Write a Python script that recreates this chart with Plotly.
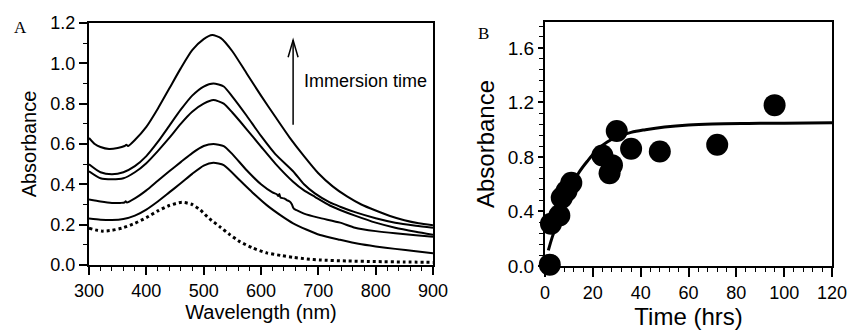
import plotly.graph_objects as go

# ---------------- Panel A : UV-vis spectra ----------------
wl_5 = [300, 310, 320, 335, 350, 362, 365, 368, 380, 400, 420, 440, 460, 480, 500, 515, 530, 550, 575, 600,
        625, 650, 675, 700, 725, 750, 775, 800, 825, 850, 875, 900]
abs_5 = [0.63, 0.60, 0.585, 0.575, 0.58, 0.59, 0.596, 0.59, 0.62, 0.685, 0.775, 0.875, 0.975, 1.065, 1.12, 1.14,
         1.125, 1.06, 0.95, 0.84, 0.735, 0.632, 0.54, 0.455, 0.39, 0.34, 0.30, 0.27, 0.243, 0.222, 0.207, 0.197]

wl_4 = [300, 320, 340, 360, 380, 400, 420, 440, 460, 480, 500, 517, 535, 550, 575, 600, 625, 656, 675, 694,
        720, 738, 764, 800, 834, 870, 900]
abs_4 = [0.50, 0.46, 0.45, 0.46, 0.49, 0.54, 0.61, 0.69, 0.77, 0.84, 0.885, 0.90, 0.885, 0.835, 0.74, 0.64,
         0.55, 0.465, 0.40, 0.355, 0.31, 0.289, 0.262, 0.232, 0.21, 0.195, 0.185]

wl_3 = [300, 320, 340, 360, 380, 400, 420, 440, 460, 480, 500, 517, 535, 550, 575, 600, 625, 656, 675, 694,
        720, 738, 764, 800, 834, 870, 900]
abs_3 = [0.465, 0.43, 0.425, 0.43, 0.46, 0.505, 0.565, 0.63, 0.70, 0.76, 0.80, 0.818, 0.80, 0.756, 0.673, 0.587,
         0.503, 0.413, 0.37, 0.338, 0.295, 0.273, 0.245, 0.21, 0.185, 0.165, 0.15]

wl_2 = [300, 320, 340, 355, 362, 364, 366, 380, 400, 420, 440, 460, 480, 500, 517, 535, 550, 575, 600, 620,
        628, 630, 632, 634, 640, 645, 650, 654, 656, 658, 662, 675, 700, 738, 764, 800, 834, 870, 900]
abs_2 = [0.325, 0.315, 0.308, 0.308, 0.31, 0.316, 0.31, 0.33, 0.37, 0.418, 0.465, 0.51, 0.555, 0.59, 0.60, 0.59,
         0.55, 0.47, 0.40, 0.36, 0.35, 0.342, 0.352, 0.335, 0.33, 0.322, 0.315, 0.30, 0.285, 0.278, 0.272, 0.255,
         0.235, 0.21, 0.185, 0.168, 0.157, 0.148, 0.14]

wl_1 = [300, 320, 340, 360, 380, 400, 420, 440, 460, 480, 500, 517, 535, 563, 585, 610, 635, 656, 680, 703,
        738, 770, 800, 834, 870, 900]
abs_1 = [0.231, 0.225, 0.223, 0.228, 0.245, 0.275, 0.315, 0.36, 0.405, 0.452, 0.493, 0.507, 0.495, 0.42, 0.36,
         0.297, 0.245, 0.207, 0.175, 0.149, 0.125, 0.105, 0.092, 0.08, 0.068, 0.058]

wl_0 = [300, 322, 340, 360, 380, 400, 420, 440, 462, 480, 494, 510, 528, 545, 563, 585, 610, 635, 656, 680,
        703, 750, 800, 850, 900]
abs_0 = [0.182, 0.168, 0.172, 0.185, 0.207, 0.235, 0.268, 0.295, 0.311, 0.30, 0.273, 0.23, 0.19, 0.152, 0.116,
         0.085, 0.06, 0.047, 0.038, 0.03, 0.025, 0.02, 0.017, 0.015, 0.013]

# ---------------- Panel B : absorbance vs time ----------------
time_hrs = [2, 2.5, 6, 7, 9, 11, 24, 27, 28, 30, 36, 48, 72, 96]
absorb_t = [0.01, 0.31, 0.37, 0.50, 0.55, 0.61, 0.81, 0.68, 0.74, 0.99, 0.86, 0.84, 0.89, 1.18]

fit_t = [1.4, 3, 5, 8, 11, 14, 18, 22, 26, 30, 36, 42, 50, 60, 70, 85, 100, 120]
fit_a = [0.115, 0.21, 0.31, 0.44, 0.57, 0.68, 0.775, 0.855, 0.91, 0.945, 0.98, 1.0, 1.02, 1.035, 1.042, 1.046,
         1.048, 1.05]

FONT = "Liberation Sans, Arial, sans-serif"
SERIF = "Liberation Serif, Times New Roman, serif"

W, H = 851, 332


def px(x):
    return x / W


def py(y):
    return 1 - y / H


fig = go.Figure()

for wl, ab in [(wl_5, abs_5), (wl_4, abs_4), (wl_3, abs_3), (wl_2, abs_2), (wl_1, abs_1)]:
    fig.add_trace(go.Scatter(x=wl, y=ab, mode="lines",
                             line=dict(color="black", width=2, shape="spline", smoothing=0.6),
                             xaxis="x", yaxis="y", showlegend=False, hoverinfo="skip"))
fig.add_trace(go.Scatter(x=wl_0, y=abs_0, mode="lines",
                         line=dict(color="black", width=3, dash="dot", shape="spline", smoothing=0.6),
                         xaxis="x", yaxis="y", showlegend=False, hoverinfo="skip"))

fig.add_trace(go.Scatter(x=fit_t, y=fit_a, mode="lines", line=dict(color="black", width=3, shape="spline"),
                         xaxis="x2", yaxis="y2", showlegend=False, hoverinfo="skip"))
fig.add_trace(go.Scatter(x=time_hrs, y=absorb_t, mode="markers", marker=dict(color="black", size=22),
                         xaxis="x2", yaxis="y2", showlegend=False, cliponaxis=False))

axis_common = dict(showgrid=False, zeroline=False, showline=True, linecolor="black", linewidth=2,
                   mirror=True, ticks="outside", tickcolor="black", tickwidth=1.5,
                   tickfont=dict(family=FONT, size=18, color="black"))

fig.update_layout(
    width=W, height=H,
    margin=dict(l=0, r=0, t=0, b=0),
    paper_bgcolor="white", plot_bgcolor="white",
    font=dict(family=FONT, color="black"),
    xaxis=dict(axis_common, domain=[px(89), px(433)], range=[300, 900], tick0=300, dtick=100, ticklen=8,
               minor=dict(dtick=20, ticklen=4, ticks="outside", tickcolor="black", tickwidth=1),
               title=dict(text="Wavelength (nm)", font=dict(family=FONT, size=20), standoff=4),
               anchor="y", automargin=False),
    yaxis=dict(axis_common, domain=[py(265), py(23)], range=[0, 1.2], dtick=0.2, tickformat=".1f", ticklen=8,
               minor=dict(dtick=0.1, ticklen=4, ticks="outside", tickcolor="black", tickwidth=1),
               title=dict(text="Absorbance", font=dict(family=FONT, size=20), standoff=8),
               anchor="x", automargin=False),
    xaxis2=dict(axis_common, domain=[px(545), px(832)], range=[0, 120], dtick=20, ticklen=9,
                minor=dict(dtick=4, ticklen=4, ticks="outside", tickcolor="black", tickwidth=1),
                title=dict(text="Time (hrs)", font=dict(family=FONT, size=24), standoff=2),
                anchor="y2", automargin=False),
    yaxis2=dict(axis_common, domain=[py(266), py(22)], range=[0, 1.79], dtick=0.4, tickformat=".1f", ticklen=5,
                tickfont=dict(family=FONT, size=19, color="black"),
                minor=dict(dtick=0.08, ticklen=4, ticks="outside", tickcolor="black", tickwidth=1),
                title=dict(text="Absorbance", font=dict(family=FONT, size=24), standoff=6),
                anchor="x2", automargin=False),
)

# Arrow (Panel A) : shaft + open chevron head
fig.add_shape(type="line", xref="x", yref="y", x0=656, y0=0.695, x1=656, y1=1.115,
              line=dict(color="black", width=1.5))
fig.add_shape(type="path", xref="x", yref="y", path="M 647.3,1.03 L 656,1.115 L 664.7,1.03",
              line=dict(color="black", width=1.5))

fig.add_annotation(x=671, y=0.912, xref="x", yref="y", text="Immersion time", showarrow=False,
                   xanchor="left", yanchor="middle", font=dict(family=FONT, size=18, color="black"))

fig.add_annotation(x=px(20), y=py(27), xref="paper", yref="paper", text="A", showarrow=False,
                   xanchor="center", yanchor="middle", font=dict(family=SERIF, size=17, color="black"))
fig.add_annotation(x=px(483), y=py(34), xref="paper", yref="paper", text="B", showarrow=False,
                   xanchor="center", yanchor="middle", font=dict(family=SERIF, size=17, color="black"))

# remove the default page margin so the 851x332 figure fills the window exactly
fig.write_html("out.html", config={"displayModeBar": False},
               post_script="document.body.style.margin='0';document.body.style.overflow='hidden';")
